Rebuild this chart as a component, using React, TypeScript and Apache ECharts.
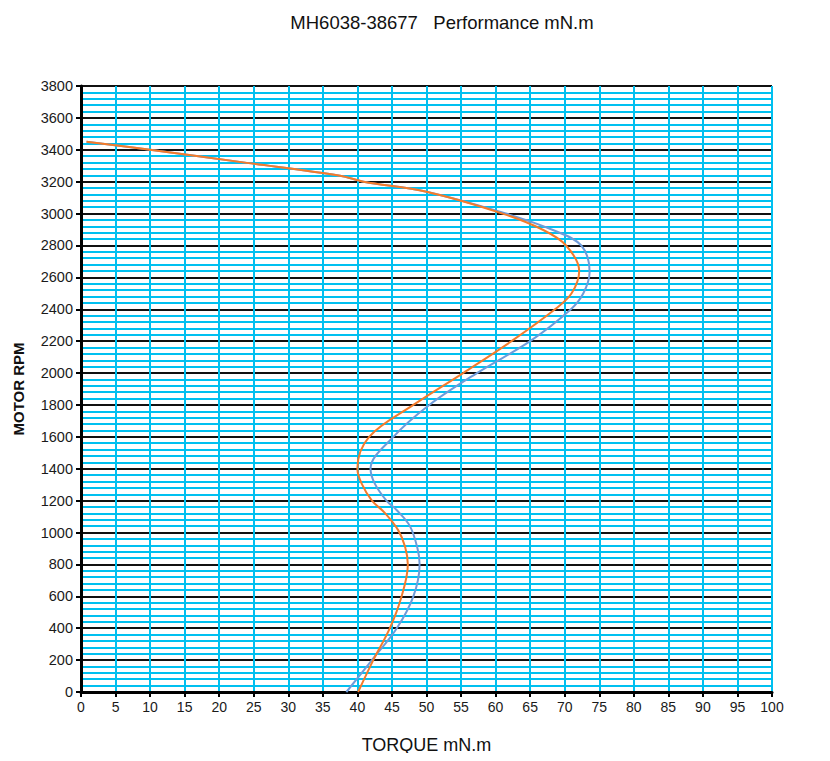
import React, { useEffect, useRef } from "react";
import * as echarts from "echarts";

const TITLE = "MH6038-38677   Performance mN.m";
const X_NAME = "TORQUE mN.m";
const Y_NAME = "MOTOR RPM";

const orangeTorque = [0.8, 10, 24, 37.5, 40.9, 50, 61, 66.9, 70.2, 72.1, 71.0, 68.6, 62.3, 55.3, 48.1, 41.7, 40.0, 40.6, 42.1, 44.0, 45.9, 46.9, 47.3, 46.4, 44.7, 42.3, 40.1];
const orangeRpm = [3450, 3400, 3318, 3237, 3200, 3137, 3000, 2897, 2800, 2640, 2500, 2400, 2200, 2000, 1800, 1600, 1400, 1308, 1200, 1122, 1015, 911, 800, 600, 400, 200, 0];

const blueTorque = [0.8, 10, 24, 37.5, 40.9, 50, 61.5, 68.3, 72.4, 73.6, 72.7, 70.9, 65.0, 57.3, 50.4, 45.2, 41.9, 42.5, 44.2, 45.7, 47.6, 48.7, 49.0, 48.1, 45.7, 42.1, 38.4];
const blueRpm = [3450, 3400, 3318, 3237, 3200, 3137, 3000, 2897, 2800, 2630, 2500, 2400, 2200, 2000, 1800, 1600, 1400, 1308, 1200, 1140, 1040, 900, 800, 600, 400, 200, 0];

const pair = (xs: number[], ys: number[]) => xs.map((x, i) => [x, ys[i]]);

export default function App() {
  const ref = useRef<HTMLDivElement>(null);
  useEffect(() => {
    if (!ref.current) return;
    const chart = echarts.init(ref.current, null, { renderer: "svg" });
    const font = "'Liberation Sans', Arial, sans-serif";
    chart.setOption({
      animation: false,
      backgroundColor: "#ffffff",
      textStyle: { fontFamily: font },
      title: {
        text: TITLE,
        left: 437,
        textAlign: "center",
        top: 8,
        textStyle: { fontSize: 18.5, fontWeight: "normal", color: "#111", fontFamily: font },
      },
      graphic: [
        {
          type: "line",
          shape: { x1: 1.5, y1: 0, x2: 1.5, y2: 761 },
          style: { stroke: "#d4d4d4", lineWidth: 1 },
        },
      ],
      grid: { left: 81, right: 58, top: 86, bottom: 69, containLabel: false },
      xAxis: {
        type: "value",
        min: 0,
        max: 100,
        interval: 5,
        name: X_NAME,
        nameLocation: "middle",
        nameGap: 44,
        nameTextStyle: { fontSize: 18, color: "#111", fontFamily: font },
        axisLine: { show: true, onZero: false, lineStyle: { color: "#000", width: 3 } },
        axisTick: { show: true, length: 5, lineStyle: { color: "#000", width: 2 } },
        axisLabel: { fontSize: 14, color: "#1a1a1a", margin: 8, fontFamily: font },
        splitLine: { show: true, lineStyle: { color: "#00C0F0", width: 2 } },
      },
      yAxis: {
        type: "value",
        min: 0,
        max: 3800,
        interval: 200,
        name: Y_NAME,
        nameLocation: "middle",
        nameGap: 55,
        nameTextStyle: { fontSize: 15, fontWeight: "bold", color: "#111", fontFamily: font },
        axisLine: { show: true, onZero: false, lineStyle: { color: "#000", width: 3 } },
        axisTick: { show: true, length: 5, lineStyle: { color: "#000", width: 2 } },
        axisLabel: {
          fontSize: 14.5,
          color: "#1a1a1a",
          margin: 8,
          fontFamily: font,
          formatter: (v: number) => String(v),
        },
        minorTick: { show: false, splitNumber: 5 },
        minorSplitLine: { show: true, lineStyle: { color: "#00C0F0", width: 2 } },
        splitLine: { show: true, lineStyle: { color: "#111", width: 2 } },
      },
      series: [
        {
          type: "line",
          name: "blue",
          data: pair(blueTorque, blueRpm),
          smooth: 0.35,
          showSymbol: false,
          lineStyle: { color: "#6E9BDA", width: 2 },
          itemStyle: { color: "#6E9BDA" },
          z: 3,
        },
        {
          type: "line",
          name: "orange",
          data: pair(orangeTorque, orangeRpm),
          smooth: 0.35,
          showSymbol: false,
          lineStyle: { color: "#F47B2A", width: 2 },
          itemStyle: { color: "#F47B2A" },
          z: 4,
        },
      ],
    });
    return () => chart.dispose();
  }, []);
  return <div ref={ref} style={{ width: 830, height: 761, margin: -8 }} />;
}
